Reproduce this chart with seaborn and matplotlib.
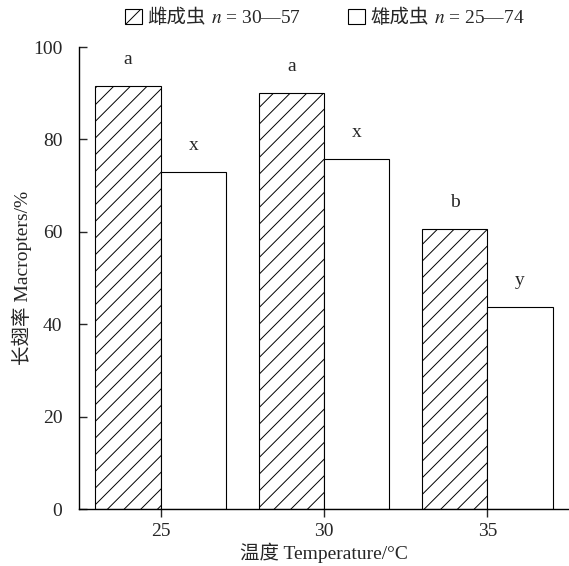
import pandas as pd
import numpy as np
import matplotlib
matplotlib.use("Agg")
import matplotlib.pyplot as plt
import seaborn as sns
from matplotlib.patches import Patch
from matplotlib.offsetbox import TextArea

# data
temps = ["25", "30", "35"]
female = [91.6, 90.0, 60.6]
male = [73.0, 75.8, 43.8]
female_letters = ["a", "a", "b"]
male_letters = ["x", "x", "y"]
legend_names = ["雌成虫", "雄成虫"]
legend_n = ["$n$ = 30—57", "$n$ = 25—74"]

df = pd.DataFrame({
    "temp": temps * 2,
    "rate": female + male,
    "sex": ["female"] * 3 + ["male"] * 3,
})

sns.set_style("ticks")
plt.rcParams["font.family"] = ["Liberation Serif", "Noto Sans CJK SC"]
plt.rcParams["mathtext.fontset"] = "stix"
plt.rcParams["hatch.linewidth"] = 0.7
plt.rcParams["font.size"] = 14

fig, ax = plt.subplots(figsize=(5.69, 5.66), dpi=100)
fig.subplots_adjust(left=79 / 569, right=1.0, bottom=1 - 509 / 566, top=1 - 47 / 566)

sns.barplot(data=df, x="temp", y="rate", hue="sex", palette=["white", "white"],
            edgecolor="black", linewidth=0.8, width=0.8, legend=False, ax=ax)

for p in ax.containers[0]:
    p.set_hatch("//")

ax.bar_label(ax.containers[0], labels=female_letters, padding=13, fontsize=14)
ax.bar_label(ax.containers[1], labels=male_letters, padding=13, fontsize=14)

ax.set_ylim(0, 100)
ax.set_xlim(-0.5, 2.5)
ax.set_yticks([0, 20, 40, 60, 80, 100])
ax.tick_params(axis="y", direction="in", length=6, width=1, pad=12, labelsize=14)
ax.tick_params(axis="x", direction="out", length=6, width=1, pad=4, labelsize=14)
sns.despine(ax=ax)
for s in ["left", "bottom"]:
    ax.spines[s].set_linewidth(1.0)
    ax.spines[s].set_color("black")

ax.set_xlabel("温度 Temperature/°C", fontsize=14, labelpad=2)
ax.set_ylabel("长翅率 Macropters/%", fontsize=14, labelpad=1)

handles = [Patch(facecolor="white", edgecolor="black", hatch="//", linewidth=0.8),
           Patch(facecolor="white", edgecolor="black", linewidth=0.8)]
leg = fig.legend(handles, legend_names, ncol=2, frameon=False,
                 loc="center", bbox_to_anchor=(325 / 569, 1 - 18 / 566),
                 handlelength=0.85, handleheight=0.85, handletextpad=0.3,
                 columnspacing=2.45, fontsize=14)

# add the italic n part after the Chinese name (mathtext cannot draw CJK)
entries = [e for col in leg._legend_handle_box.get_children() for e in col.get_children()]
for entry, txt in zip(entries, legend_n):
    ta = TextArea(txt, textprops=dict(fontsize=14))
    ta.set_figure(fig)
    entry.get_children().append(ta)
    entry.sep = 4

fig.savefig("out.png", dpi=100)
